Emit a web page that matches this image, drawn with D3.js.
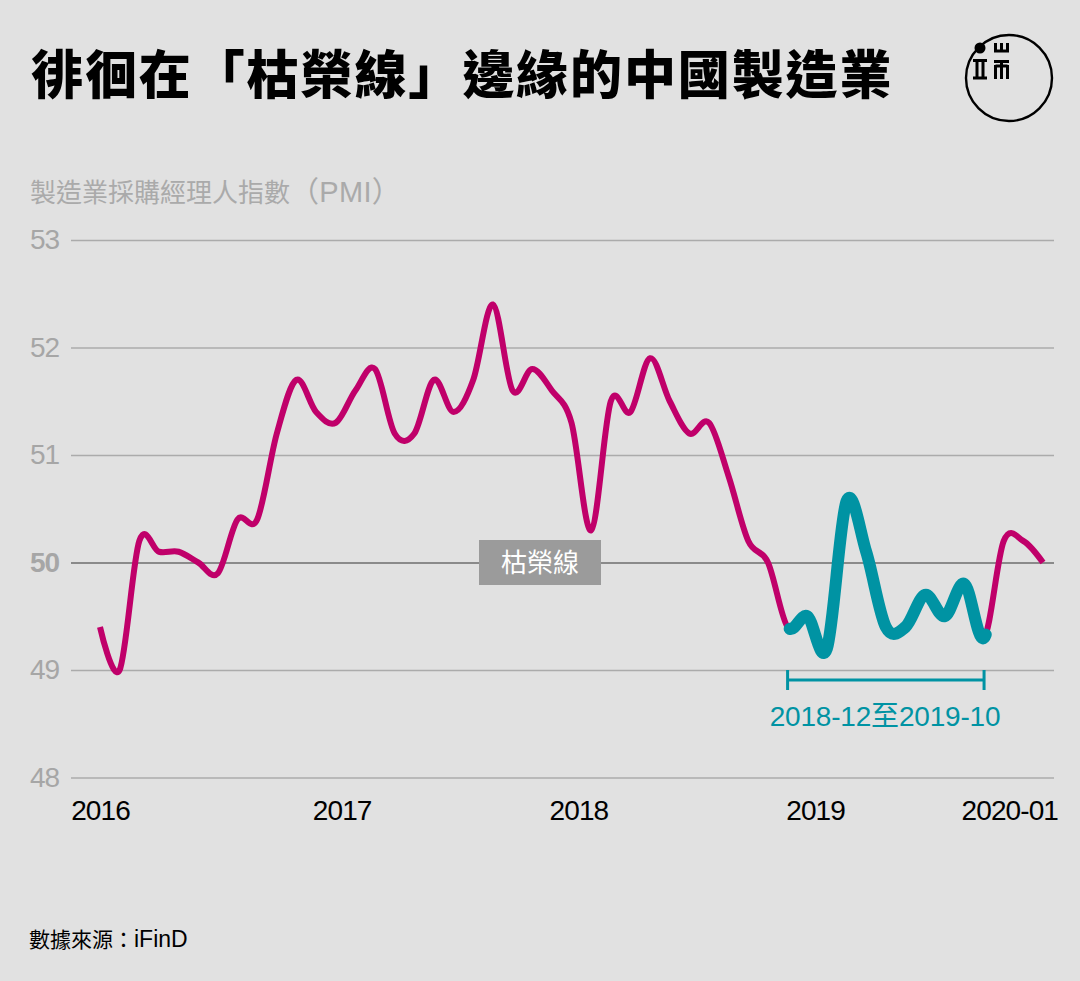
<!DOCTYPE html>
<html>
<head>
<meta charset="utf-8">
<script src="https://cdn.jsdelivr.net/npm/d3@7"></script>
<style>
  html, body { margin: 0; padding: 0; background: #e1e1e1; }
  svg { display: block; }
  text { font-family: "Liberation Sans", "Noto Sans CJK TC", sans-serif; }
  .domain { display: none; }
</style>
</head>
<body>
<div class="chart"></div>
<script>
// monthly PMI, 2016-01 to 2020-01
var pmi = [
  49.4, 49.0, 50.2, 50.1, 50.1, 50.0, 49.9, 50.4, 50.4, 51.2, 51.7, 51.4,
  51.3, 51.6, 51.8, 51.2, 51.2, 51.7, 51.4, 51.7, 52.4, 51.6, 51.8, 51.6,
  51.3, 50.3, 51.5, 51.4, 51.9, 51.5, 51.2, 51.3, 50.8, 50.2, 50.0, 49.4,
  49.5, 49.2, 50.57, 50.1, 49.4, 49.4, 49.7, 49.5, 49.8, 49.3, 50.2, 50.2,
  50.0
];
var yTicks = [48, 49, 50, 51, 52, 53];
var xTickMonths = [0, 12.3, 24.35, 36.4];
var xTickLabels = ["2016", "2017", "2018", "2019"];
var lastLabel = "2020-01";
var belowStart = 35, belowEnd = 45; // 2018-12, 2019-10

var magenta = "#c0006a", teal = "#0093a3", grey = "#a6a6a6";

var svg = d3.select(".chart").append("svg")
  .attr("width", 1080).attr("height", 981);

var x = d3.scaleLinear().domain([0, 48]).range([100, 1043]);
var y = d3.scaleLinear().domain([48, 53]).range([777.5, 240]);

// title
svg.append("text").attr("x", 31).attr("y", 94)
  .attr("font-size", 52).attr("font-weight", 900).attr("letter-spacing", 1.9)
  .attr("fill", "#000")
  .style("font-family", '"Noto Sans CJK TC"')
  .text("徘徊在「枯榮線」邊緣的中國製造業");

// logo
var logo = svg.append("g");
logo.append("circle").attr("cx", 1009).attr("cy", 78).attr("r", 43)
  .attr("fill", "none").attr("stroke", "#000").attr("stroke-width", 2.4);
logo.append("circle").attr("cx", 980).attr("cy", 48).attr("r", 5.5).attr("fill", "#000");
logo.append("path").attr("fill", "none").attr("stroke", "#000").attr("stroke-width", 3)
  .attr("d", "M995.5 43V51H1007.5V43M1001.5 43V51"
    + "M994 61.5H1009M995.5 65V79M1001.5 61.5V79M1007.5 65V79M995.5 66H1007.5"
    + "M973 60.5H987M973 78H987M977 60.5V78M983 60.5V78");

var unitLabel = svg.append("text").attr("x", 30).attr("y", 202)
  .attr("font-size", 26).attr("fill", "#aaa");
unitLabel.append("tspan").text("製造業採購經理人指數");
unitLabel.append("tspan").attr("font-size", 29).attr("letter-spacing", 0.3).text("（PMI）");

// axes
var yAxis = svg.append("g").attr("transform", "translate(71,0)")
  .call(d3.axisLeft(y).tickValues(yTicks).tickSize(-983).tickPadding(11).tickFormat(d3.format("d")));
yAxis.selectAll("line").attr("stroke", function(d) { return d == 50 ? "#8a8a8a" : "#ababab"; })
  .attr("stroke-width", function(d) { return d == 50 ? 2 : 1.3; });
yAxis.selectAll("text")
  .attr("text-anchor", "start").attr("x", -41)
  .attr("font-size", 28).attr("letter-spacing", -1).attr("fill", grey)
  .attr("font-weight", function(d) { return d == 50 ? "bold" : "normal"; })
  .style("font-family", '"Liberation Sans"');

var xAxis = svg.append("g").attr("transform", "translate(0,800)")
  .call(d3.axisBottom(x).tickValues(xTickMonths).tickSize(0).tickPadding(0)
    .tickFormat(function(d, i) { return xTickLabels[i]; }));
xAxis.selectAll("text")
  .attr("font-size", 28).attr("letter-spacing", -0.9).attr("fill", "#000").attr("dy", 20)
  .style("font-family", '"Liberation Sans"');

svg.append("text").attr("x", 1058).attr("y", 820).attr("text-anchor", "end")
  .attr("font-size", 28).attr("letter-spacing", -0.9).attr("fill", "#000").text(lastLabel);

// 枯榮線 tag
svg.append("rect").attr("x", 479).attr("y", y(50) - 22.5).attr("width", 122).attr("height", 45)
  .attr("fill", "#9b9b9b");
svg.append("text").attr("x", 540).attr("y", y(50) + 9).attr("text-anchor", "middle")
  .attr("font-size", 26).attr("fill", "#fff").text("枯榮線");

// lines
var line = d3.line()
  .x(function(d, i) { return x(i); })
  .y(function(d) { return y(d); })
  .curve(d3.curveCardinal.tension(0));

var full = svg.append("path").datum(pmi)
  .attr("d", line).attr("fill", "none")
  .attr("stroke", magenta).attr("stroke-width", 6);

// find where on the path a month sits, to overlay the thick part
var node = full.node(), total = node.getTotalLength();
var lengthAt = function(px) {
  var lo = 0, hi = total;
  for (var i = 0; i < 30; i++) {
    var mid = (lo + hi) / 2;
    if (node.getPointAtLength(mid).x < px) lo = mid; else hi = mid;
  }
  return lo;
};
var l0 = lengthAt(x(belowStart)), l1 = lengthAt(x(belowEnd));

svg.append("path").datum(pmi)
  .attr("d", line).attr("fill", "none")
  .attr("stroke", teal).attr("stroke-width", 12).attr("stroke-linecap", "round")
  .attr("stroke-dasharray", (l1 - l0) + " " + total)
  .attr("stroke-dashoffset", -l0);

// bracket
var by = 680;
svg.append("path")
  .attr("d", "M" + x(belowStart) + " " + (by - 10) + "V" + (by + 10)
    + "M" + x(belowStart) + " " + by + "H" + x(belowEnd)
    + "M" + x(belowEnd) + " " + (by - 10) + "V" + (by + 10))
  .attr("fill", "none").attr("stroke", teal).attr("stroke-width", 3);
svg.append("text").attr("x", 885).attr("y", 726).attr("text-anchor", "middle")
  .attr("font-size", 28).attr("letter-spacing", -0.2).attr("fill", teal).text("2018-12至2019-10");

// source
var source = svg.append("text").attr("x", 29).attr("y", 947)
  .attr("font-size", 21).attr("fill", "#000");
source.append("tspan").text("數據來源：");
source.append("tspan").attr("font-size", 23).text("iFinD");
</script>
</body>
</html>
